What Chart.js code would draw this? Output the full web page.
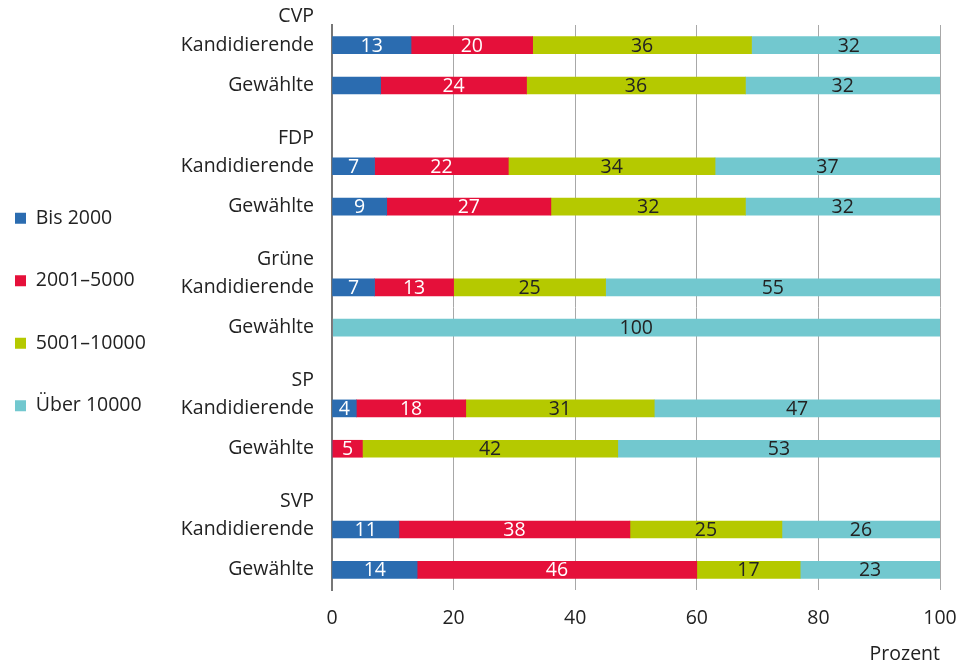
<!DOCTYPE html>
<html>
<head>
<meta charset="utf-8">
<script src="https://cdn.jsdelivr.net/npm/chart.js@4"></script>
<style>
  html, body { margin: 0; padding: 0; background: #fff; }
  #wrap { width: 964px; height: 666px; }
</style>
</head>
<body>
<div id="wrap"><canvas id="chart" width="964" height="666"></canvas></div>
<script>
// rows top to bottom, empty rows separate the parties
const rowLabels = [
    ['CVP', 'Kandidierende', ''], 'Gewählte', '',
    ['FDP', 'Kandidierende', ''], 'Gewählte', '',
    ['Grüne', 'Kandidierende', ''], 'Gewählte', '',
    ['SP', 'Kandidierende', ''], 'Gewählte', '',
    ['SVP', 'Kandidierende', ''], 'Gewählte'
];
const seriesNames = ['Bis 2000', '2001\u20135000', '5001\u201310000', 'Über 10000'];
const bis2000   = [13, 8, null, 7, 9, null, 7, 0, null, 4, 0, null, 11, 14];
const bis5000   = [20, 24, null, 22, 27, null, 13, 0, null, 18, 5, null, 38, 46];
const bis10000  = [36, 36, null, 34, 32, null, 25, 0, null, 31, 42, null, 25, 17];
const ueber10000 = [32, 32, null, 37, 32, null, 55, 100, null, 47, 53, null, 26, 23];
const xTicks = [0, 20, 40, 60, 80, 100];
// segments without a number in the original: [row, series]
const unlabelled = [[1, 0]];

const colors = ['#2b6cb0', '#e5103a', '#b5c900', '#72c8cf'];
const labelColors = ['#fff', '#fff', '#222', '#222'];
const FONT = "'Open Sans', 'Liberation Sans', sans-serif";
const FS = 19.5;

const datasets = [bis2000, bis5000, bis10000, ueber10000].map((d, i) => ({
    label: seriesNames[i],
    data: d,
    backgroundColor: colors[i],
    borderWidth: 0,
    barThickness: 17
}));

new Chart(document.getElementById('chart'), {
    type: 'bar',
    data: { labels: rowLabels, datasets: datasets },
    options: {
        indexAxis: 'y',
        responsive: false,
        animation: false,
        layout: { padding: { top: 25, right: 24, left: -28, bottom: 0 } },
        scales: {
            x: {
                stacked: true,
                min: 0,
                max: 100,
                afterBuildTicks: (s) => { s.ticks = xTicks.map(v => ({ value: v })); },
                grid: { color: '#a8a8a8', lineWidth: 1, drawTicks: false },
                border: { display: false },
                ticks: { color: '#222', padding: 17, font: { family: FONT, size: FS } },
                title: {
                    display: true, text: 'Prozent', align: 'end', color: '#222',
                    font: { family: FONT, size: FS }, padding: { top: 10, bottom: 0 }
                },
                afterFit: (s) => { s.paddingLeft = 0; s.paddingRight = 0; s.height = 76; }
            },
            y: {
                stacked: true,
                grid: { display: false, drawTicks: false },
                border: { display: true, color: '#777', width: 2 },
                ticks: {
                    color: '#222', padding: 18, autoSkip: false,
                    font: { family: FONT, size: FS, lineHeight: 1.45 }
                },
                afterFit: (s) => {
                    s.width = 360 - s.chart.legend.width;
                    s.paddingTop = 0;
                    s.paddingBottom = 0;
                }
            }
        },
        plugins: {
            legend: {
                position: 'left',
                align: 'start',
                title: { display: true, text: ' ', font: { size: 12 }, padding: { top: 126, bottom: 0 } },
                labels: {
                    color: '#222', boxWidth: 11, boxHeight: 11, padding: 43,
                    font: { family: FONT, size: FS }
                }
            },
            tooltip: { enabled: false }
        }
    },
    plugins: [{
        id: 'segmentLabels',
        afterDatasetsDraw: (chart) => {
            const ctx = chart.ctx;
            ctx.save();
            ctx.font = `${FS}px ${FONT}`;
            ctx.textAlign = 'center';
            ctx.textBaseline = 'middle';
            chart.data.datasets.forEach((dataset, i) => {
                const meta = chart.getDatasetMeta(i);
                meta.data.forEach((bar, index) => {
                    const v = dataset.data[index];
                    if (!v) return;
                    if (unlabelled.some(u => u[0] === index && u[1] === i)) return;
                    ctx.fillStyle = labelColors[i];
                    ctx.fillText(v, (bar.x + bar.base) / 2, bar.y + 1);
                });
            });
            ctx.restore();
        }
    }]
});
</script>
</body>
</html>
